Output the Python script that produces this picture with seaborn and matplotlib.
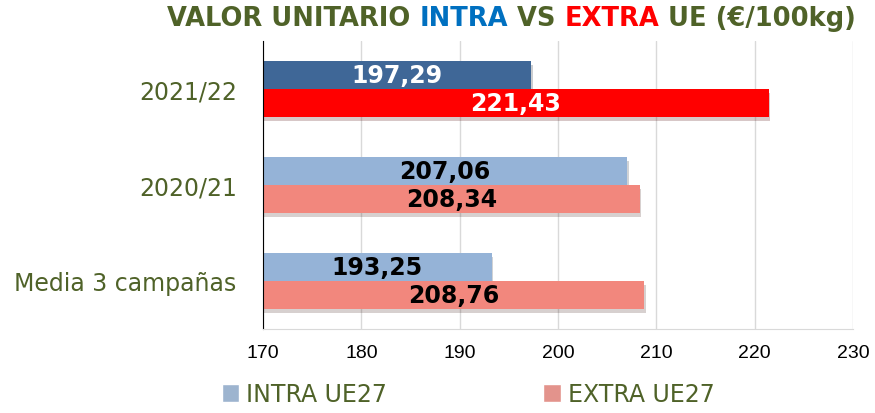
import pandas as pd
import matplotlib.pyplot as plt
import matplotlib.patheffects as pe
import seaborn as sns

# Datos
campanas = ['2021/22', '2020/21', 'Media 3 campañas']
intra = [197.29, 207.06, 193.25]
extra = [221.43, 208.34, 208.76]
series = ['INTRA UE27', 'EXTRA UE27']

df = pd.DataFrame({
    'campana': campanas * 2,
    'valor': intra + extra,
    'serie': [series[0]] * 3 + [series[1]] * 3,
})

verde = '#4F6228'
col_intra = ['#3F6797', '#95B3D7', '#95B3D7']
col_extra = ['#FF0000', '#F2877D', '#F2877D']
col_txt = ['white', 'black', 'black']

sns.set_style('white')
plt.rcParams['font.family'] = ['DejaVu Sans']

fig = plt.figure(figsize=(8.75, 4.14), dpi=100)
ax = fig.add_axes([0.3006, 0.2029, 0.6743, 0.6957])

sns.barplot(data=df, y='campana', x='valor', hue='serie', orient='h',
            order=campanas, hue_order=series, width=0.58,
            palette=[col_intra[1], col_extra[1]], ax=ax, legend=True)

# colores por barra y etiquetas
for cont, cols in zip(ax.containers, [col_intra, col_extra]):
    for i, (bar, c) in enumerate(zip(cont, cols)):
        bar.set_facecolor(c)
        bar.set_edgecolor('none')
        bar.set_path_effects([pe.SimplePatchShadow(offset=(1, -3), alpha=0.22), pe.Normal()])
        val = bar.get_width()
        y = bar.get_y() + bar.get_height() / 2
        ax.text((170 + val) / 2, y, f'{val:.2f}'.replace('.', ','),
                ha='center', va='center', fontsize=17, fontweight='bold',
                color=col_txt[i])

ax.set_xlim(170, 230)
ax.set_ylim(2.5, -0.5)
ax.set_xticks(range(170, 231, 10))
ax.set_xlabel('')
ax.set_ylabel('')
ax.grid(axis='x', color='#D9D9D9', linewidth=1)
ax.set_axisbelow(True)
for s in ['top', 'right']:
    ax.spines[s].set_visible(False)
ax.spines['bottom'].set_color('#D9D9D9')
ax.spines['left'].set_color('black')
ax.tick_params(axis='x', labelsize=14, pad=11, length=0, colors='black')
ax.tick_params(axis='y', length=0, pad=19, labelcolor=verde)
for t in ax.get_xticklabels():
    t.set_fontfamily('Liberation Sans')
for t in ax.get_yticklabels():
    t.set_fontsize(17)

# leyenda
h, l = ax.get_legend_handles_labels()
ax.legend_.remove()
fig.legend(h, l, loc='lower center', bbox_to_anchor=(0.535, -0.035), ncol=2,
           frameon=False, fontsize=17, labelcolor=verde, columnspacing=6.6,
           handlelength=0.75, handleheight=0.75, handletextpad=0.3)

# titulo multicolor
partes = [('VALOR UNITARIO ', verde), ('INTRA', '#0070C0'), (' VS ', verde),
          ('EXTRA', '#FF0000'), (' UE (€/100kg)', verde)]
fig.canvas.draw()
r = fig.canvas.get_renderer()
textos = []
x = 0
for s, c in partes:
    t = fig.text(x, 0.953, s, color=c, fontsize=18.5, fontweight='bold', va='center')
    w = t.get_window_extent(r).width / fig.bbox.width
    textos.append((t, w))
    x += w
x0 = 0.5846 - x / 2
for t, w in textos:
    t.set_x(x0)
    x0 += w

fig.savefig('out.png', dpi=100)
